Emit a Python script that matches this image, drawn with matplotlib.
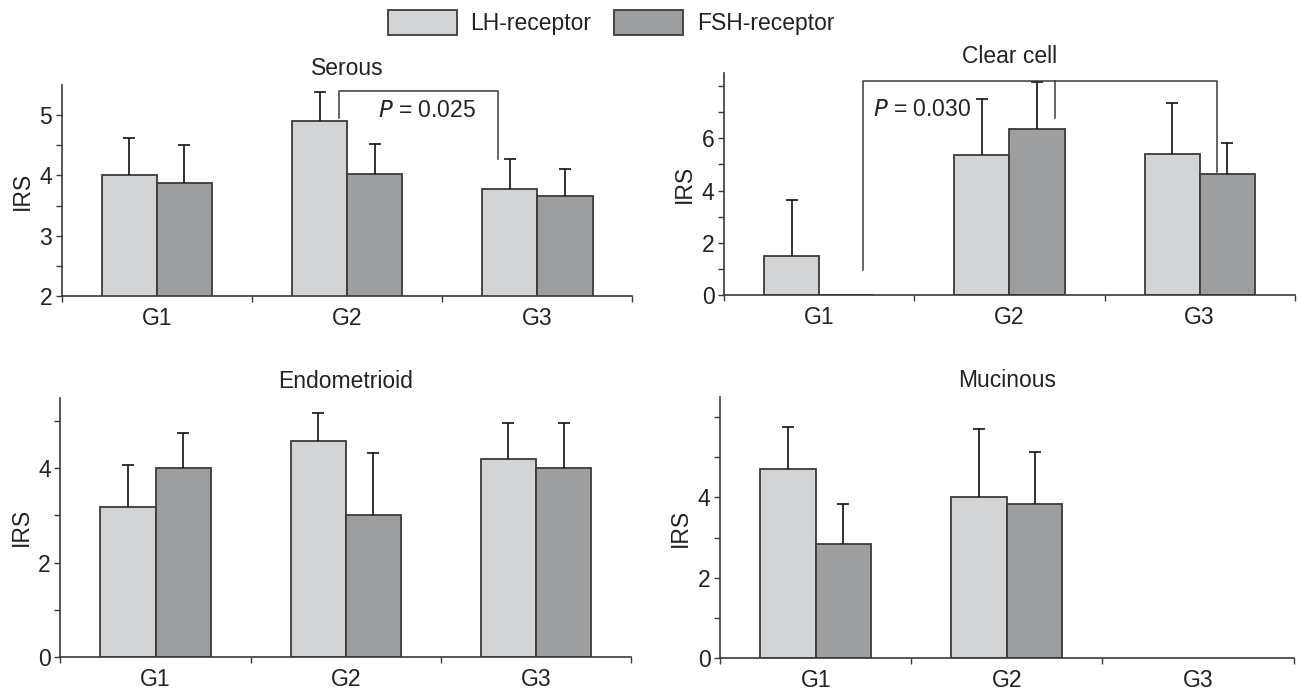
import matplotlib
matplotlib.use("Agg")
import matplotlib.pyplot as plt
from matplotlib.patches import Patch
import numpy as np

plt.rcParams['font.family'] = ['Liberation Sans', 'DejaVu Sans']

groups = ['G1', 'G2', 'G3']

# mean IRS and upper SD per histology
serous_lh = [4.00, 4.90, 3.78]
serous_lh_sd = [0.62, 0.49, 0.49]
serous_fsh = [3.87, 4.03, 3.65]
serous_fsh_sd = [0.64, 0.49, 0.45]

clear_lh = [1.51, 5.34, 5.40]
clear_lh_sd = [2.13, 2.17, 1.94]
clear_fsh = [0.0, 6.35, 4.62]
clear_fsh_sd = [0.0, 1.78, 1.18]

endo_lh = [3.17, 4.58, 4.19]
endo_lh_sd = [0.90, 0.60, 0.77]
endo_fsh = [4.00, 3.00, 4.00]
endo_fsh_sd = [0.74, 1.33, 0.96]

muc_lh = [4.70, 4.00, np.nan]
muc_lh_sd = [1.06, 1.70, np.nan]
muc_fsh = [2.84, 3.84, np.nan]
muc_fsh_sd = [1.00, 1.28, np.nan]

lh_color = '#d3d4d6'
fsh_color = '#9d9ea0'
edge = '#3a3a3a'
txt = '#222222'
fs = 16.5
width = 0.29


def upper_err(ax, xs, ys, sd):
    keep = sd > 0
    if keep.sum() == 0:
        return
    eb = ax.errorbar(xs[keep], ys[keep], yerr=[np.zeros(keep.sum()), sd[keep]],
                     fmt='none', ecolor='#111111', elinewidth=1.2, capsize=4,
                     capthick=1.2, zorder=3)
    # hide the lower caps sitting on the bar tops
    eb[1][0].set_visible(False)


def panel(ax, title, lh, lh_sd, fsh, fsh_sd, ylim, major, minor):
    x = np.arange(len(groups)) + 0.5
    lh = np.array(lh, dtype=float)
    fsh = np.array(fsh, dtype=float)
    ok1 = ~np.isnan(lh)
    ok2 = ~np.isnan(fsh)
    ax.bar(x[ok1] - width / 2, lh[ok1], width, color=lh_color, edgecolor=edge, linewidth=1.3, zorder=2)
    ax.bar(x[ok2] + width / 2, fsh[ok2], width, color=fsh_color, edgecolor=edge, linewidth=1.3, zorder=2)
    upper_err(ax, x[ok1] - width / 2, lh[ok1], np.array(lh_sd, dtype=float)[ok1])
    upper_err(ax, x[ok2] + width / 2, fsh[ok2], np.array(fsh_sd, dtype=float)[ok2])
    ax.set_xlim(0, 3)
    ax.set_ylim(*ylim)
    ax.set_xticks(x)
    ax.set_xticklabels(groups, fontsize=fs, color=txt)
    ax.set_xticks([0, 1, 2, 3], minor=True)
    ax.tick_params(axis='x', which='major', length=0, pad=8)
    ax.tick_params(axis='x', which='minor', length=4, width=1, color=edge, direction='out')
    ax.set_yticks(major)
    ax.set_yticklabels([str(v) for v in major], fontsize=fs, color=txt)
    ax.set_yticks(minor, minor=True)
    ax.tick_params(axis='y', which='both', length=4, width=1, color=edge, pad=3)
    ax.spines['top'].set_visible(False)
    ax.spines['right'].set_visible(False)
    for s in ['left', 'bottom']:
        ax.spines[s].set_color(edge)
        ax.spines[s].set_linewidth(1.2)
    ax.set_ylabel('IRS', fontsize=fs, color=txt, labelpad=4)
    ax.set_title(title, fontsize=fs, color=txt, pad=7)


fig = plt.figure(figsize=(13, 6.9), dpi=100)

ax1 = fig.add_axes([0.0475, 0.571, 0.439, 0.306])
panel(ax1, 'Serous', serous_lh, serous_lh_sd, serous_fsh, serous_fsh_sd,
      (2, 5.5), [2, 3, 4, 5], [2.5, 3.5, 4.5])
ax1.plot([1.46, 1.46, 2.293, 2.293], [4.95, 5.40, 5.40, 4.27], color=edge, lw=1.1, zorder=4)
ax1.text(1.66, 5.08, '$\\it{P}$ = 0.025', fontsize=fs, color=txt, va='center', ha='left')

ax2 = fig.add_axes([0.557, 0.572, 0.439, 0.3226])
panel(ax2, 'Clear cell', clear_lh, clear_lh_sd, clear_fsh, clear_fsh_sd,
      (0, 8.5), [0, 2, 4, 6], [1, 3, 5, 7, 8])
ax2.plot([0.728, 0.728, 2.589, 2.589], [0.96, 8.17, 8.17, 4.72], color=edge, lw=1.1, zorder=4)
ax2.plot([1.739, 1.739], [8.17, 6.79], color=edge, lw=1.1, zorder=4)
ax2.text(0.783, 7.09, '$\\it{P}$ = 0.030', fontsize=fs, color=txt, va='center', ha='left')

ax3 = fig.add_axes([0.0465, 0.0483, 0.4389, 0.3753])
panel(ax3, 'Endometrioid', endo_lh, endo_lh_sd, endo_fsh, endo_fsh_sd,
      (0, 5.5), [0, 2, 4], [1, 3, 5])

ax4 = fig.add_axes([0.554, 0.046, 0.441, 0.379])
panel(ax4, 'Mucinous', muc_lh, muc_lh_sd, muc_fsh, muc_fsh_sd,
      (0, 6.5), [0, 2, 4], [1, 3, 5, 6])

handles = [Patch(facecolor=lh_color, edgecolor=edge, linewidth=1.3, label='LH-receptor'),
           Patch(facecolor=fsh_color, edgecolor=edge, linewidth=1.3, label='FSH-receptor')]
leg = fig.legend(handles=handles, loc='center', bbox_to_anchor=(0.47, 0.967), ncol=2,
                 frameon=False, fontsize=fs, handlelength=3.0, handleheight=1.3,
                 handletextpad=0.6, columnspacing=1.0)
for t in leg.get_texts():
    t.set_color(txt)

fig.savefig('out.png', dpi=100)
